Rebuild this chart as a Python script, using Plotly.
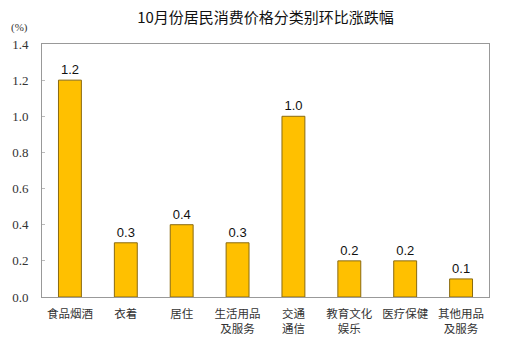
import plotly.graph_objects as go

categories = ["食品烟酒", "衣着", "居住", "生活用品<br>及服务", "交通<br>通信", "教育文化<br>娱乐", "医疗保健", "其他用品<br>及服务"]
values = [1.2, 0.3, 0.4, 0.3, 1.0, 0.2, 0.2, 0.1]
labels = ["1.2", "0.3", "0.4", "0.3", "1.0", "0.2", "0.2", "0.1"]
yticks = [0.0, 0.2, 0.4, 0.6, 0.8, 1.0, 1.2, 1.4]

fig = go.Figure(go.Bar(
    x=categories, y=values, text=labels, textposition="outside",
    textfont=dict(family="Liberation Sans", size=13, color="#111"),
    marker=dict(color="#FFC000", line=dict(color="#8a6a10", width=1)),
    cliponaxis=False,
))
fig.update_layout(
    width=506, height=352,
    margin=dict(l=40, r=17, t=44, b=55),
    paper_bgcolor="white", plot_bgcolor="white",
    bargap=0.59,
    showlegend=False,
    title=dict(text="10月份居民消费价格分类别环比涨跌幅", x=0.5, xref="paper", y=0.95, yanchor="middle",
               font=dict(family="Noto Sans CJK SC", size=15, color="#111")),
    annotations=[dict(text="(%)", x=0, xref="paper", xanchor="right", xshift=-12, y=1, yref="paper",
                      yanchor="bottom", yshift=8, showarrow=False,
                      font=dict(family="Liberation Serif", size=11, color="#333"))],
)
fig.update_xaxes(showline=True, linecolor="#999", linewidth=1, mirror=True, ticks="",
                 ticklabelstandoff=6,
                 tickfont=dict(family="Noto Sans CJK SC", size=11.5, color="#333"))
fig.update_yaxes(range=[0, 1.4], tickvals=yticks, tickformat=".1f", showgrid=False,
                 showline=True, linecolor="#999", linewidth=1, mirror=True,
                 ticks="inside", ticklen=3, tickcolor="#bbb", zeroline=False,
                 ticklabelstandoff=10,
                 tickfont=dict(family="Liberation Serif", size=13, color="#333"))
fig.write_html("out.html")
